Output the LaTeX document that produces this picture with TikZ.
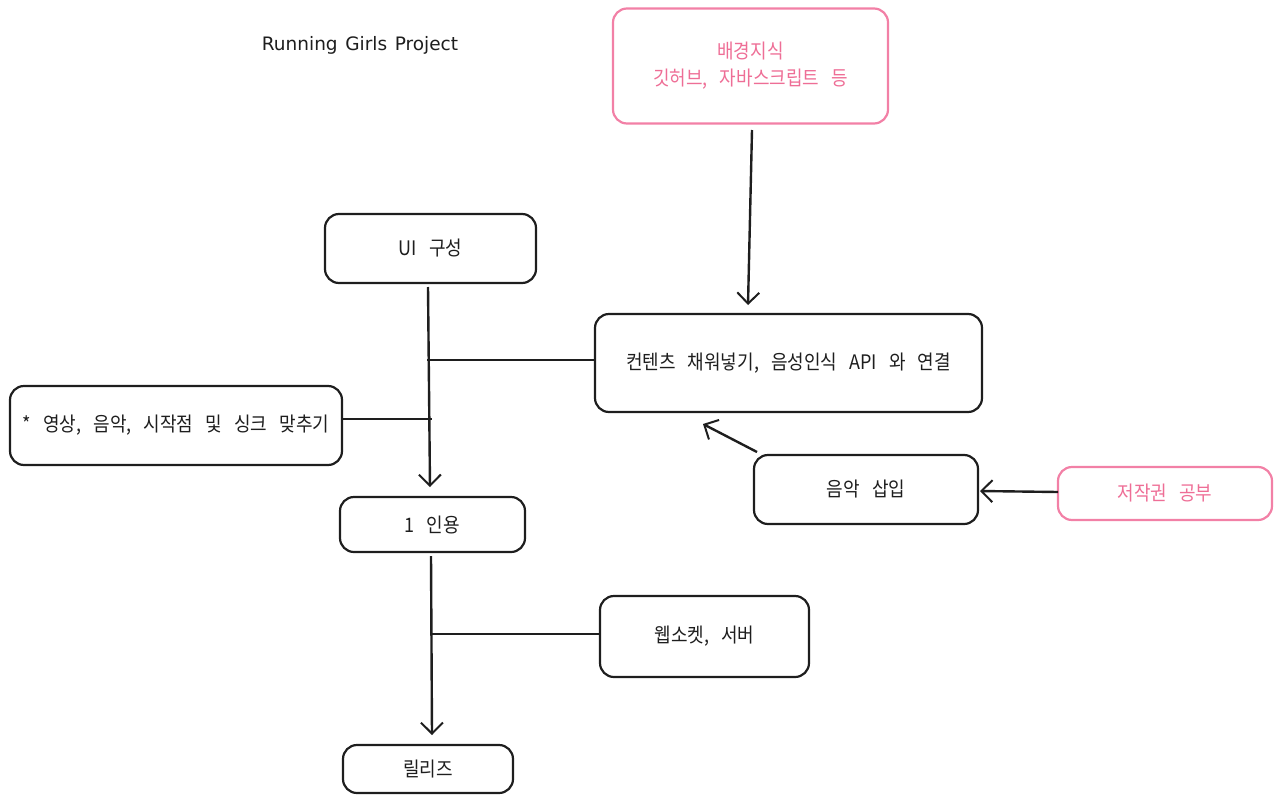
\documentclass[tikz,border=0pt]{standalone}
\usepackage{fontspec}
\setmainfont{Noto Sans CJK KR}[FakeStretch=0.9, WordSpace=3]
\newfontfamily\titlefont{DejaVu Sans}[WordSpace=1.3]
\usetikzlibrary{arrows.meta}
\definecolor{pinkline}{RGB}{242,128,166}
\definecolor{pinktext}{RGB}{238,110,150}
\definecolor{ink}{RGB}{30,30,30}
\tikzset{
  box/.style={draw=ink, line width=2.2pt, rounded corners=14pt, inner sep=0pt, font=\fontsize{20}{27}\selectfont, text=ink},
  pbox/.style={box, draw=pinkline, text=pinktext},
  conn/.style={draw=ink, line width=2.4pt},
  arr/.style={conn, -{Straight Barb[length=11pt,width=22pt,line width=2pt]}},
}
\begin{document}
\begin{tikzpicture}[x=1pt,y=-1pt]
\useasboundingbox (0,0) rectangle (1282,803);
\node[font=\titlefont\fontsize{18.5}{21}\selectfont, text=ink] (title) at (360,45) {Running Girls Project};
\node[pbox, minimum width=275pt, minimum height=115pt, align=center] (bg) at (750.5,66) {배경지식\\깃허브, 자바스크립트 등};
\node[box, minimum width=211pt, minimum height=69pt] (ui) at (430.5,248.5) {UI 구성};
\node[box, minimum width=387pt, minimum height=98pt] (content) at (788.5,363) {컨텐츠 채워넣기, 음성인식 API 와 연결};
\node[box, minimum width=332pt, minimum height=79pt] (sync) at (176,425.5) {* 영상, 음악, 시작점 및 싱크 맞추기};
\node[box, minimum width=224pt, minimum height=69pt] (music) at (866,489.5) {음악 삽입};
\node[pbox, minimum width=214pt, minimum height=53pt] (copy) at (1165,493.5) {저작권 공부};
\node[box, minimum width=185pt, minimum height=55pt] (cite) at (432.5,524.5) {1 인용};
\node[box, minimum width=209pt, minimum height=81pt] (ws) at (704.5,636.5) {웹소켓, 서버};
\node[box, minimum width=170pt, minimum height=48pt] (rel) at (428,769) {릴리즈};
% junction coordinates
\coordinate (uiOut) at (428,287);
\coordinate (citeIn) at (430,487);
\coordinate (j1) at (427,360);
\coordinate (j2) at (432,419);
\coordinate (citeOut) at (431,556);
\coordinate (relIn) at (432,735);
\coordinate (j3) at (432,634);
\coordinate (bgOut) at (752,130);
\coordinate (contentIn) at (748,305);
\coordinate (musicOut) at (757,452);
\coordinate (contentIn2) at (703,424);
\coordinate (copyOut) at (1058,492);
\coordinate (musicIn) at (980,491);
\draw[arr] (bgOut) -- (contentIn);
\draw[arr] (uiOut) -- (citeIn);
\draw[conn] (content.west |- j1) -- (j1);
\draw[conn] (sync.east |- j2) -- (j2);
\draw[arr] (musicOut) -- (contentIn2);
\draw[arr] (copyOut) -- (musicIn);
\draw[arr] (citeOut) -- (relIn);
\draw[conn] (ws.west |- j3) -- (j3);
\end{tikzpicture}
\end{document}
